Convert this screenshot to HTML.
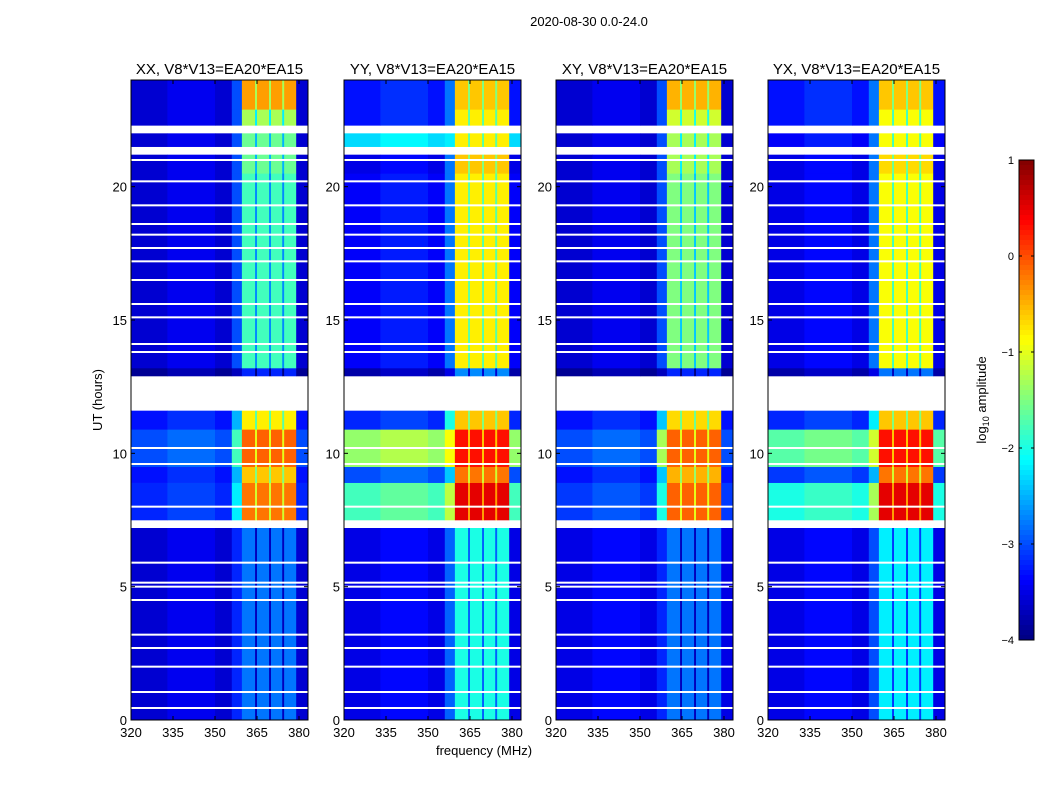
<!DOCTYPE html>
<html><head><meta charset="utf-8"><style>
body{margin:0;background:#fff;}
svg text{font-family:"Liberation Sans",sans-serif;fill:#000;}
</style></head><body>
<svg id="fig" width="1050" height="800" xmlns="http://www.w3.org/2000/svg">
<text x="589" y="26" font-size="13" text-anchor="middle">2020-08-30 0.0-24.0</text>
<text transform="translate(102,400) rotate(-90)" font-size="13" text-anchor="middle">UT (hours)</text>
<text x="484" y="755" font-size="13" text-anchor="middle">frequency (MHz)</text>
<g id="panels"></g>
<g id="cbar"></g>
</svg>
<script>
// ---- data ----
const segStart = [0, 7.2, 7.5, 8.9, 9.5, 10.9, 11.6, 12.9, 13.2, 20.5, 21.2, 21.5, 22.0, 22.3, 22.9];
const segEnd   = [7.2, 7.5, 8.9, 9.5, 10.9, 11.6, 12.9, 13.2, 20.5, 21.2, 21.5, 22.0, 22.3, 22.9, 24];
const segFlagged = [0,1,0,0,0,0,1,0,0,0,1,0,1,0,0];
const panelTitles = ["XX, V8*V13=EA20*EA15","YY, V8*V13=EA20*EA15","XY, V8*V13=EA20*EA15","YX, V8*V13=EA20*EA15"];
const bgXX   = [-3.6,null,-3.2,-3.3,-3.0,-3.3,null,-3.9,-3.6,-3.6,null,-3.6,null,-3.6,-3.6];
const edgeXX = [-3.2,null,-2.2,-2.5,-1.8,-2.5,null,-3.7,-3.0,-3.0,null,-3.0,null,-3.0,-3.0];
const bandXX = [-2.8,null,-0.2,-0.6,-0.1,-0.8,null,-3.2,-1.8,-1.6,null,-1.6,null,-1.3,-0.4];
const bgYY   = [-3.5,null,-1.8,-3.0,-1.4,-3.2,null,-3.8,-3.4,-3.5,null,-2.3,null,-3.3,-3.3];
const edgeYY = [-2.9,null,-1.2,-2.4,-0.9,-2.0,null,-3.5,-2.8,-2.8,null,-2.2,null,-2.8,-2.8];
const bandYY = [-2.0,null,0.5,-0.2,0.3,-0.6,null,-2.7,-0.8,-0.6,null,-0.8,null,-0.8,-0.6];
const bgXY   = [-3.5,null,-3.1,-3.3,-3.0,-3.3,null,-3.9,-3.6,-3.6,null,-3.6,null,-3.6,-3.6];
const edgeXY = [-3.2,null,-2.0,-2.4,-1.3,-2.4,null,-3.7,-3.0,-3.0,null,-3.0,null,-3.0,-3.0];
const bandXY = [-2.8,null,-0.1,-0.5,-0.1,-0.7,null,-3.2,-1.5,-1.3,null,-1.3,null,-1.1,-0.5];
const bgYX   = [-3.5,null,-2.0,-3.1,-1.7,-3.2,null,-3.8,-3.5,-3.5,null,-3.4,null,-3.3,-3.3];
const edgeYX = [-3.0,null,-1.3,-2.5,-1.1,-2.2,null,-3.5,-2.8,-2.8,null,-2.8,null,-2.8,-2.8];
const bandYX = [-2.2,null,0.5,-0.2,0.3,-0.6,null,-2.8,-0.9,-0.7,null,-0.9,null,-0.9,-0.6];
const flagLines = [0.45,1.05,2.0,2.7,3.2,4.5,5.0,5.15,5.9,8.0,9.6,10.2,13.8,14.1,15.1,15.6,16.5,17.2,17.7,18.2,18.6,19.3,20.2,21.0];
const xTicks = [320,335,350,365,380];
const yTicks = [0,5,10,15,20];
const cbTicks = [1,0,-1,-2,-3,-4];

// frequency columns
const colStart = [320, 333, 350, 356, 359.6, 364.3, 365.0, 369.3, 370.0, 374.0, 374.7, 379.0];
const colEnd   = [333, 350, 356, 359.6, 364.3, 365.0, 369.3, 370.0, 374.0, 374.7, 379.0, 383.2];
const colKind  = ["bg","bg2","bg","edge","band","gap","band","gap","band","gap","band","bg"];

const panelData = [[bgXX,edgeXX,bandXX],[bgYY,edgeYY,bandYY],[bgXY,edgeXY,bandXY],[bgYX,edgeYX,bandYX]];
const lefts = [131,344,556,768];
const W = 177, TOP = 80, H = 640;
const VMIN=-4, VMAX=1;

function jet(v){
  let t=(v-VMIN)/(VMAX-VMIN); t=Math.max(0,Math.min(1,t));
  const f=(x)=>Math.max(0,Math.min(1,1.5-Math.abs(4*t-x)));
  return `rgb(${Math.round(255*f(3))},${Math.round(255*f(2))},${Math.round(255*f(1))})`;
}
const NS="http://www.w3.org/2000/svg";
function mk(tag,attrs,parent){const e=document.createElementNS(NS,tag);for(const k in attrs)e.setAttribute(k,attrs[k]);parent.appendChild(e);return e;}

const panels=document.getElementById('panels');
lefts.forEach((L,p)=>{
  const xs=f=>L+(f-320)*2.8;
  const ys=h=>TOP+H-h*H/24;
  const g=mk('g',{},panels);
  
  
  const [bg,edge,band]=panelData[p];
  mk('rect',{x:L,y:TOP,width:W,height:H,fill:'#fff'},g);
  for(let s=0;s<segStart.length;s++){
    if(segFlagged[s]) continue;
    for(let c=0;c<colStart.length;c++){
      const k=colKind[c];
      let v = k==="bg"?bg[s]:k==="bg2"?bg[s]+0.15:k==="edge"?edge[s]:k==="band"?band[s]:band[s]-0.9;
      const r=mk('rect',{x:xs(colStart[c]),y:ys(segEnd[s]),width:xs(colEnd[c])-xs(colStart[c])+0.3,height:ys(segStart[s])-ys(segEnd[s])+0.3,fill:jet(v)},g);
      
      
    }
  }
  flagLines.forEach(h=>{
    const r=mk('rect',{x:L,y:ys(h)-1,width:W,height:2,fill:'#fff'},g);
    
    
  });
  mk('rect',{x:L,y:TOP,width:W,height:H,fill:'none',stroke:'#000','stroke-width':1},g);
  const t=mk('text',{x:L+W/2,y:74,'font-size':15,'text-anchor':'middle'},g);
  t.textContent=panelTitles[p];
  
  
  xTicks.forEach(f=>{
    mk('line',{x1:xs(f),x2:xs(f),y1:TOP+H,y2:TOP+H-4,stroke:'#000'},g);
    mk('line',{x1:xs(f),x2:xs(f),y1:TOP,y2:TOP+4,stroke:'#000'},g);
    const tx=mk('text',{x:xs(f),y:TOP+H+17,'font-size':13,'text-anchor':'middle'},g);
    tx.textContent=f;
    
    
  });
  yTicks.forEach(h=>{
    mk('line',{x1:L,x2:L+4,y1:ys(h),y2:ys(h),stroke:'#000'},g);
    mk('line',{x1:L+W,x2:L+W-4,y1:ys(h),y2:ys(h),stroke:'#000'},g);
    const ty=mk('text',{x:L-4,y:ys(h)+5,'font-size':13,'text-anchor':'end'},g);
    ty.textContent=h;
    
    
  });
});

// colorbar
const cb=document.getElementById('cbar');
const CX=1019,CW=15,CT=160,CH=480;
const cy=v=>CT+(VMAX-v)/(VMAX-VMIN)*CH;
for(let i=0;i<96;i++){
  const v1=VMAX-i*(VMAX-VMIN)/96, v0=v1-(VMAX-VMIN)/96;
  mk('rect',{x:CX,y:cy(v1),width:CW,height:cy(v0)-cy(v1)+0.5,fill:jet((v0+v1)/2)},cb);
}
mk('rect',{x:CX,y:CT,width:CW,height:CH,fill:'none',stroke:'#000'},cb);
cbTicks.forEach(v=>{
  mk('line',{x1:CX,x2:CX+3,y1:cy(v),y2:cy(v),stroke:'#000'},cb);
  mk('line',{x1:CX+CW,x2:CX+CW-3,y1:cy(v),y2:cy(v),stroke:'#000'},cb);
  const t=mk('text',{x:CX-5,y:cy(v)+4,'font-size':11,'text-anchor':'end'},cb);
  t.textContent=v<0?'\u2212'+(-v):String(v);
  
  
});
const cl=mk('text',{transform:'translate(986,400) rotate(-90)','font-size':13,'text-anchor':'middle'},cb);
cl.innerHTML='log<tspan font-size="9" dy="3">10</tspan><tspan dy="-3"> amplitude</tspan>';


</script>
</body></html>
